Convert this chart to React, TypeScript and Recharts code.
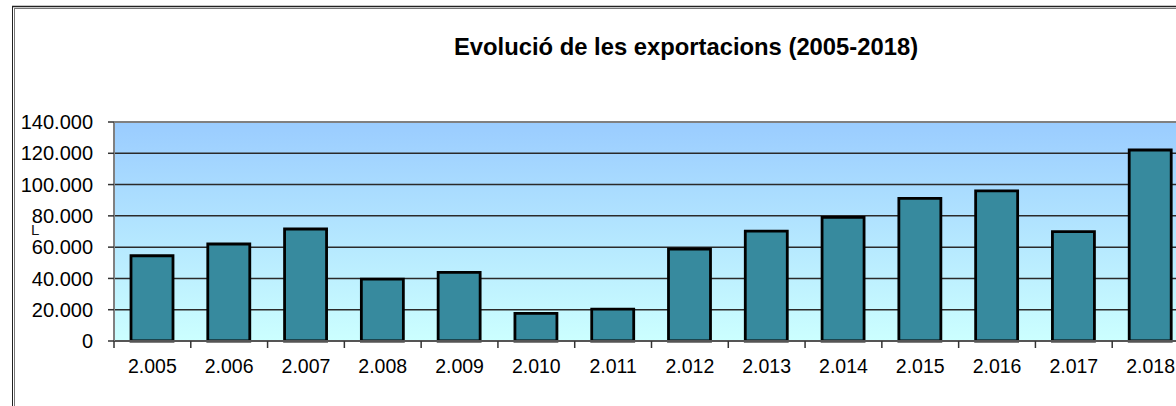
import { BarChart, Bar, XAxis, YAxis, CartesianGrid, ReferenceLine } from 'recharts';

// anys (etiquetes de l'eix X)
const years = ['2.005', '2.006', '2.007', '2.008', '2.009', '2.010', '2.011', '2.012', '2.013', '2.014', '2.015', '2.016', '2.017', '2.018'];
// exportacions per any
const exports = [54500, 62000, 71600, 39600, 43900, 17700, 20400, 58800, 70300, 79000, 91200, 96000, 69900, 122100];
// ticks de l'eix Y
const yTicks = [0, 20000, 40000, 60000, 80000, 100000, 120000, 140000];

const title = 'Evolució de les exportacions (2005-2018)';

const data = years.map((year, i) => ({ year, value: exports[i] }));

const FONT = "'Liberation Sans', Arial, sans-serif";
const CHART_W = 1200;
const MARGIN_RIGHT = 11;
const Y_AXIS_W = 114;
const BAND = (CHART_W - MARGIN_RIGHT - Y_AXIS_W) / years.length;

// format 140000 -> "140.000"
const fmt = (v: number) => String(v).replace(/\B(?=(\d{3})+(?!\d))/g, '.');

// tick de l'eix X amb la marca a la vora de la categoria (estil Excel)
function YearTick(props: any) {
  const { x, y, payload, index } = props;
  const left = x - BAND / 2;
  return (
    <g>
      <line x1={left} y1={y} x2={left} y2={y + 7} stroke="#333" strokeWidth={1.5} />
      {index === years.length - 1 && (
        <line x1={x + BAND / 2} y1={y} x2={x + BAND / 2} y2={y + 7} stroke="#333" strokeWidth={1.5} />
      )}
      <text x={x} y={y + 31.5} textAnchor="middle" fontSize={19.5} fontFamily={FONT} fill="#000">
        {payload.value}
      </text>
    </g>
  );
}

export default function App() {
  return (
    <div
      style={{
        position: 'fixed',
        left: 0,
        top: 0,
        width: 1176,
        height: 406,
        overflow: 'hidden',
        background: '#fff',
      }}
    >
      <BarChart
        width={CHART_W}
        height={406}
        data={data}
        margin={{ top: 122, right: MARGIN_RIGHT, bottom: 0, left: 0 }}
      >
        <defs>
          <linearGradient id="plotBg" x1="0" y1="0" x2="0" y2="1">
            <stop offset="0%" stopColor="#9ACCFF" />
            <stop offset="100%" stopColor="#CCFFFF" />
          </linearGradient>
        </defs>
        <CartesianGrid
          vertical={false}
          fill="url(#plotBg)"
          fillOpacity={1}
          stroke="#2a2a2a"
          strokeWidth={1.5}
        />
        <XAxis
          dataKey="year"
          height={65}
          tickLine={false}
          tickSize={0}
          tickMargin={0}
          interval={0}
          axisLine={{ stroke: '#555', strokeWidth: 2 }}
          tick={<YearTick />}
        />
        <YAxis
          width={Y_AXIS_W}
          domain={[0, 140000]}
          ticks={yTicks}
          interval={0}
          tickSize={6}
          tickMargin={15}
          tickFormatter={fmt}
          axisLine={{ stroke: '#808080', strokeWidth: 2 }}
          tickLine={{ stroke: '#333', strokeWidth: 1.5 }}
          tick={{ fill: '#000', fontSize: 20, fontFamily: FONT }}
        />
        <ReferenceLine y={140000} stroke="#808080" strokeWidth={2} />
        <Bar
          dataKey="value"
          fill="#378A9E"
          stroke="#000"
          strokeWidth={2.8}
          barSize={42}
          isAnimationActive={false}
        />
      </BarChart>
      <svg
        width={1176}
        height={406}
        style={{ position: 'absolute', left: 0, top: 0, pointerEvents: 'none' }}
      >
        {/* marc del gràfic */}
        <line x1={12.5} y1={6} x2={12.5} y2={406} stroke="#222" strokeWidth={1} />
        <line x1={14.5} y1={8} x2={14.5} y2={406} stroke="#777" strokeWidth={1} />
        <line x1={12} y1={6.5} x2={1176} y2={6.5} stroke="#222" strokeWidth={1.5} />
        <line x1={14} y1={8.5} x2={1176} y2={8.5} stroke="#777" strokeWidth={1} />
        <text
          x={686}
          y={55}
          textAnchor="middle"
          fontSize={23.8}
          fontWeight="bold"
          fontFamily={FONT}
          fill="#000"
        >
          {title}
        </text>
        <text x={31} y={235} fontSize={15} fontFamily={FONT} fill="#111">
          L
        </text>
      </svg>
    </div>
  );
}
